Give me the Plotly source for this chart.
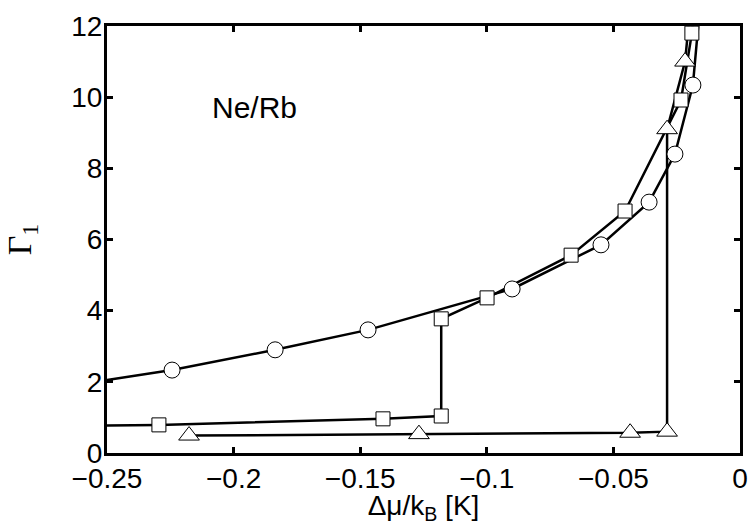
import plotly.graph_objects as go

# Circle series (markers)
circ_x = [-0.2243, -0.1836, -0.1469, -0.0900, -0.0549, -0.0359, -0.0257, -0.0186]
circ_y = [2.33, 2.90, 3.46, 4.61, 5.85, 7.05, 8.40, 10.34]
circ_start = (-0.2500, 2.05)
circ_end = (-0.0160, 12.4)

# Square series (markers)
sq_x = [-0.2295, -0.1410, -0.1180, -0.1180, -0.0999, -0.0667, -0.0454, -0.0233, -0.0190]
sq_y = [0.79, 0.96, 1.04, 3.77, 4.36, 5.56, 6.80, 9.92, 11.80]
sq_start = (-0.2500, 0.77)
sq_end = (-0.0182, 12.4)

# Triangle series (markers)
tri_x = [-0.2176, -0.1268, -0.0434, -0.0288, -0.0288, -0.0217]
tri_y = [0.49, 0.53, 0.57, 0.60, 9.10, 11.00]
tri_end = (-0.0198, 12.4)

x_ticks = [-0.25, -0.2, -0.15, -0.1, -0.05, 0]
x_ticktext = ["\u22120.25", "\u22120.2", "\u22120.15", "\u22120.1", "\u22120.05", "0"]
y_ticks = [0, 2, 4, 6, 8, 10, 12]

fig = go.Figure()

line_style = dict(color="black", width=2.5)

# lines
fig.add_trace(go.Scatter(x=[circ_start[0]] + circ_x + [circ_end[0]],
                         y=[circ_start[1]] + circ_y + [circ_end[1]],
                         mode="lines", line=line_style, showlegend=False, hoverinfo="skip"))
fig.add_trace(go.Scatter(x=[sq_start[0]] + sq_x + [sq_end[0]],
                         y=[sq_start[1]] + sq_y + [sq_end[1]],
                         mode="lines", line=line_style, showlegend=False, hoverinfo="skip"))
fig.add_trace(go.Scatter(x=tri_x + [tri_end[0]],
                         y=tri_y + [tri_end[1]],
                         mode="lines", line=line_style, showlegend=False, hoverinfo="skip"))

# markers
fig.add_trace(go.Scatter(x=circ_x, y=circ_y, mode="markers", showlegend=False,
                         marker=dict(symbol="circle", size=16, color="white",
                                     line=dict(color="black", width=1))))
fig.add_trace(go.Scatter(x=sq_x, y=sq_y, mode="markers", showlegend=False,
                         marker=dict(symbol="square", size=14, color="white",
                                     line=dict(color="black", width=1))))
fig.add_trace(go.Scatter(x=tri_x, y=tri_y, mode="markers", showlegend=False,
                         marker=dict(symbol="triangle-up", size=18, color="white",
                                     line=dict(color="black", width=1))))

fig.add_annotation(x=-0.1916, y=9.70, text="Ne/Rb", showarrow=False,
                   font=dict(family="Liberation Sans", size=30, color="black"))

axis_common = dict(showline=True, linewidth=3, linecolor="black", mirror="ticks",
                   ticks="inside", ticklen=6, tickwidth=3, tickcolor="black",
                   showgrid=False, zeroline=False,
                   tickfont=dict(family="Liberation Sans", size=28, color="black"))

fig.update_xaxes(range=[-0.25, 0], tickvals=x_ticks, ticktext=x_ticktext,
                 ticklabelstandoff=-2,
                 title=dict(text="\u0394\u03bc/k<sub>B</sub> [K]", standoff=6,
                            font=dict(family="Liberation Sans", size=28, color="black")),
                 **axis_common)
fig.update_yaxes(range=[0, 12], tickvals=y_ticks, ticklabelstandoff=-4,
                 title=dict(text="\u0393<sub>1</sub>", standoff=30,
                            font=dict(family="Liberation Serif", size=34, color="black")),
                 **axis_common)

fig.update_layout(width=749, height=525, margin=dict(l=107, r=9, t=26, b=72, autoexpand=False),
                  paper_bgcolor="white", plot_bgcolor="white")

fig.write_html("out.html")
